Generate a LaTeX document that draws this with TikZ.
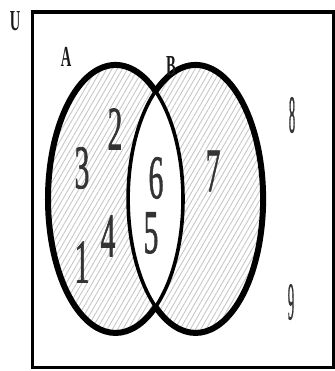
\documentclass[tikz,border=0pt]{standalone}
\usepackage{fontspec}
\setmainfont{Liberation Serif}
\newfontfamily\digitfont[FakeBold=1.3]{Liberation Serif}
\usetikzlibrary{patterns.meta}
\begin{document}
\begin{tikzpicture}[x=1pt,y=1pt,
  num/.style={inner sep=0pt, text=black!80, font=\digitfont\fontsize{62}{62}\selectfont, xscale=0.48},
  smallnum/.style={num, font=\digitfont\fontsize{53}{53}\selectfont, xscale=0.5},
  setlabel/.style={inner sep=0pt, text=black!90, font=\bfseries\fontsize{29}{29}\selectfont, xscale=0.5},
  hatch/.style={pattern={Lines[angle=60,distance=4.5pt,line width=0.9pt]}, pattern color=black!22},
  outerline/.style={line width=6pt, line cap=round},
  innerline/.style={line width=3.6pt, line cap=round},
  frame/.style={line width=3pt}]
\useasboundingbox (0,0) rectangle (334,371);
% hatched sets
\fill[hatch] (115.5,172) ellipse [x radius=67.5, y radius=134];
\fill[hatch] (195.5,172) ellipse [x radius=67.5, y radius=134];
\begin{scope}
  \clip (115.5,172) ellipse [x radius=67.5, y radius=134];
  \fill[white] (195.5,172) ellipse [x radius=67.5, y radius=134];
\end{scope}
% intersection points
\coordinate (top) at (155.55,279.9);
\coordinate (bot) at (155.55,64.1);
% ellipse A
\draw[innerline] (bot) arc[start angle=-53.6, end angle=53.6, x radius=67.5pt, y radius=134pt];
\draw[outerline] (top) arc[start angle=53.6, end angle=306.4, x radius=67.5pt, y radius=134pt];
% ellipse B
\draw[innerline] (top) arc[start angle=126.4, end angle=233.6, x radius=67.5pt, y radius=134pt];
\draw[outerline] (top) arc[start angle=126.4, end angle=-126.4, x radius=67.5pt, y radius=134pt];
% universe frame
\draw[frame] (32,3) rectangle (333,359);
\draw[line width=4.5pt] (30.5,359) -- (334,359);
% labels
\node[setlabel] (U) at (15,350) {U};
\node[setlabel] (A) at (66,314) {A};
\node[setlabel] (B) at (171,305) {B};
\node[num] (n2) at (115,242) {2};
\node[num] (n3) at (82,203) {3};
\node[num] (n6) at (156,193) {6};
\node[num] (n7) at (213,200) {7};
\node[num] (n4) at (108,135) {4};
\node[num] (n5) at (151,138) {5};
\node[num] (n1) at (82,109) {1};
\node[smallnum] (n8) at (292,256) {8};
\node[smallnum] (n9) at (291,69) {9};
\end{tikzpicture}
\end{document}
